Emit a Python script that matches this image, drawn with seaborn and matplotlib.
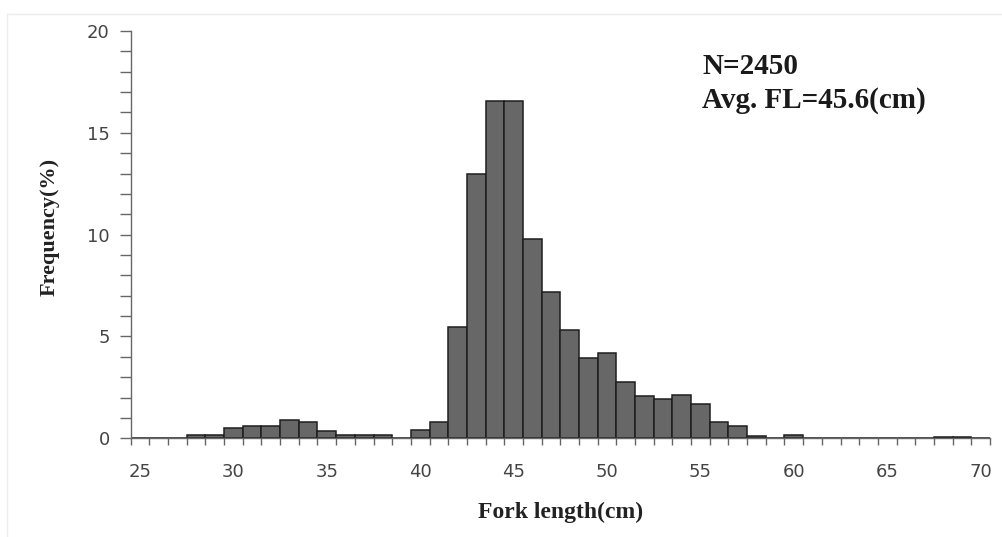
import matplotlib
matplotlib.use('Agg')
import matplotlib.pyplot as plt
from matplotlib.lines import Line2D
from matplotlib.ticker import FixedLocator
import numpy as np
import pandas as pd
import seaborn as sns

# fork length classes (cm) and frequency (%)
lengths = list(range(25, 71))
frequency = [
    0, 0, 0, 0.15, 0.15, 0.5, 0.6, 0.6, 0.9, 0.82,      # 25-34
    0.37, 0.15, 0.15, 0.15, 0, 0.42, 0.8, 5.47, 12.97, 16.57,  # 35-44
    16.57, 9.78, 7.19, 5.34, 3.96, 4.19, 2.77, 2.06, 1.95, 2.15,  # 45-54
    1.7, 0.8, 0.59, 0.1, 0, 0.15, 0, 0, 0, 0,           # 55-64
    0, 0, 0, 0.08, 0.08, 0,                             # 65-70
]
x_labels = [25, 30, 35, 40, 45, 50, 55, 60, 65, 70]
y_labels = [0, 5, 10, 15, 20]
n_fish = 2450
avg_fl = 45.6

df = pd.DataFrame({'length': lengths, 'freq': frequency})

sns.set_style('ticks')
plt.rcParams['font.family'] = ['DejaVu Sans']

fig = plt.figure(figsize=(10.03, 5.37), dpi=100)
ax = fig.add_axes([0.1303, 0.1838, 0.8567, 0.7585])

sns.barplot(data=df, x='length', y='freq', native_scale=True, width=1.0,
            color='#676767', edgecolor='#1e1e1e', linewidth=1.1,
            saturation=1, ax=ax)

ax.set_xlim(24.5, 70.5)
ax.set_ylim(0, 20)

# category style axis: labels at class centres, ticks between classes
ax.xaxis.set_major_locator(FixedLocator(x_labels))
ax.set_xticklabels([str(v) for v in x_labels])
ax.xaxis.set_minor_locator(FixedLocator(np.arange(24.5, 71, 1)))
ax.tick_params(axis='x', which='major', bottom=True, length=0, pad=18,
               labelsize=13, labelcolor='#444444')
ax.tick_params(axis='x', which='minor', bottom=True, length=5, width=1,
               color='#666666', direction='out')

ax.yaxis.set_major_locator(FixedLocator(y_labels))
ax.set_yticklabels([str(v) for v in y_labels])
ax.yaxis.set_minor_locator(FixedLocator(np.arange(0, 21, 1)))
ax.tick_params(axis='y', which='major', left=True, length=8, width=1,
               color='#666666', pad=7, labelsize=13, labelcolor='#444444')
ax.tick_params(axis='y', which='minor', left=True, length=8, width=1,
               color='#666666')

sns.despine(ax=ax)
for side in ['left', 'bottom']:
    ax.spines[side].set_color('#666666')
    ax.spines[side].set_linewidth(1)

serif = ['Liberation Serif', 'DejaVu Serif']
ax.set_xlabel('Fork length(cm)', family=serif, fontweight='bold',
              fontsize=17, color='#222222')
ax.xaxis.set_label_coords(0.5, -0.155)
ax.set_ylabel('Frequency(%)', family=serif, fontweight='bold',
              fontsize=16, color='#222222')
ax.yaxis.set_label_coords(-0.083, 0.52)

ax.text(0.665, 0.945, f'N={n_fish}\nAvg. FL={avg_fl}(cm)',
        transform=ax.transAxes, ha='left', va='top', family=serif,
        fontweight='bold', fontsize=21, color='#1a1a1a', linespacing=1.3)

# faint chart area border
fig.add_artist(Line2D([0.007, 0.007], [0, 0.974], color='#ececec', lw=1))
fig.add_artist(Line2D([0.007, 1], [0.974, 0.974], color='#ececec', lw=1))

fig.savefig('out.png', dpi=100)
